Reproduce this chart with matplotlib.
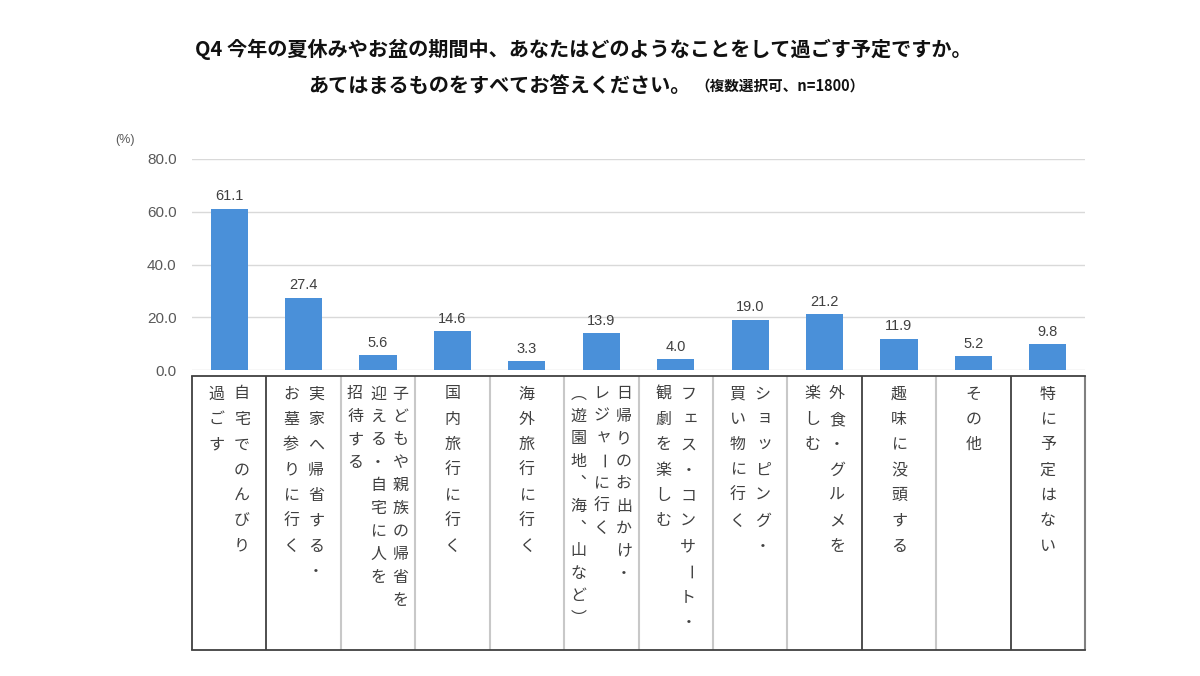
import matplotlib
matplotlib.use("Agg")
import matplotlib.pyplot as plt

plt.rcParams['font.family'] = ['Noto Sans CJK JP', 'DejaVu Sans']

# ---- data ----
categories = [
    "自宅でのんびり\n過ごす",
    "実家へ帰省する・\nお墓参りに行く",
    "子どもや親族の帰省を\n迎える・自宅に人を\n招待する",
    "国内旅行に行く",
    "海外旅行に行く",
    "日帰りのお出かけ・\nレジャーに行く\n（遊園地、海、山など）",
    "フェス・コンサート・\n観劇を楽しむ",
    "ショッピング・\n買い物に行く",
    "外食・グルメを\n楽しむ",
    "趣味に没頭する",
    "その他",
    "特に予定はない",
]
values = [61.1, 27.4, 5.6, 14.6, 3.3, 13.9, 4.0, 19.0, 21.2, 11.9, 5.2, 9.8]
yticks = [0, 20, 40, 60, 80]
title1 = "Q4 今年の夏休みやお盆の期間中、あなたはどのようなことをして過ごす予定ですか。"
title2 = "あてはまるものをすべてお答えください。"
title2_note = "（複数選択可、n=1800）"

# ---- layout ----
W, H = 1200, 676
fig = plt.figure(figsize=(W / 100, H / 100), dpi=100)
fig.patch.set_facecolor("white")

def fx(px):
    return px / W

def fy(py):
    return 1 - py / H

L, R = 192, 1085
ax = fig.add_axes([fx(L), fy(370), fx(R) - fx(L), fy(159) - fy(370)])
n = len(values)
xs = list(range(n))
ax.bar([x + 0.5 for x in xs], values, width=0.5, color="#4A90D9", zorder=3)
ax.set_xlim(0, n)
ax.set_ylim(0, 80)
ax.set_yticks(yticks)
ax.set_yticklabels([f"{v:.1f}" for v in yticks], color="#595959", fontsize=11,
                   family=['Liberation Sans', 'DejaVu Sans'])
ax.tick_params(axis="y", length=0, pad=11)
ax.set_xticks([])
for s in ax.spines.values():
    s.set_visible(False)
ax.grid(axis="y", color="#D9D9D9", linewidth=1, zorder=0)
for x, v in zip(xs, values):
    ax.annotate(f"{v:.1f}", (x + 0.5, v), xytext=(0, 4), textcoords="offset points",
                ha="center", va="bottom", fontsize=10.5, color="#404040",
                family=['Liberation Sans', 'DejaVu Sans'])
fig.text(fx(125), fy(140), "(%)", fontsize=9, color="#595959", ha="center", va="center",
         family=['Liberation Sans', 'DejaVu Sans'])

# ---- label table ----
T_top, T_bot = 376, 650
tax = fig.add_axes([fx(L), fy(T_bot), fx(R) - fx(L), fy(T_top) - fy(T_bot)])
tax.set_xlim(0, n)
tax.set_ylim(T_bot - T_top, 0)
tax.axis("off")
dark = {0, 1, 9, 11}
for b in range(n + 1):
    if b in dark:
        c, lw = "#404040", 1.3
    elif b == n:
        c, lw = "#808080", 1.5
    else:
        c, lw = "#C8C8C8", 1.5
    tax.plot([b, b], [0, T_bot - T_top], color=c, lw=lw, clip_on=False, solid_capstyle="butt")
tax.plot([0, n], [0, 0], color="#404040", lw=1.3, clip_on=False)
tax.plot([0, n], [T_bot - T_top, T_bot - T_top], color="#404040", lw=1.3, clip_on=False)

colw = (R - L) / n
spacing = {2: 22.9, 5: 22.4}
vertical_forms = {"（": "︵", "）": "︶", "、": "︑"}
small_chars = set("ャッョェ")
for i, lab in enumerate(categories):
    lines = lab.split("\n")
    if len(lines) == 1:
        offs = [0]
    elif len(lines) == 2:
        offs = [12.5, -12.5]
    else:
        offs = [22.5, 0, -23]
    sp = spacing.get(i, 25.4)
    for line, off in zip(lines, offs):
        for k, ch in enumerate(line):
            xx = i + 0.5 + off / colw
            yy = 18 + k * sp
            rot = 0
            t = ch
            if ch == "ー":
                rot = -90
            elif ch in vertical_forms:
                t = vertical_forms[ch]
            elif ch in small_chars:
                xx += 2 / colw
                yy -= 2
            tax.text(xx, yy, t, ha="center", va="center", rotation=rot,
                     fontsize=11.5, color="#404040", rotation_mode="default")

# ---- title ----
fig.text(fx(583), fy(56), title1, fontsize=14.5, fontweight="bold", ha="center",
         va="baseline", color="#111111")
fig.text(fx(690), fy(92), title2, fontsize=14.5, fontweight="bold", ha="right",
         va="baseline", color="#111111")
fig.text(fx(695), fy(91), title2_note, fontsize=10.5, fontweight="bold", ha="left",
         va="baseline", color="#111111")

fig.savefig("out.png", dpi=100, facecolor="white")
